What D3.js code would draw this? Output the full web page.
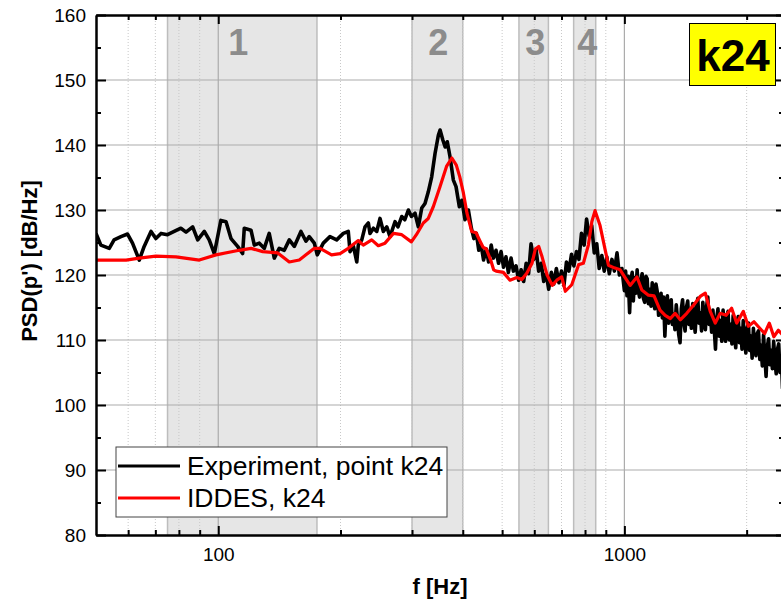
<!DOCTYPE html>
<html>
<head>
<meta charset="utf-8">
<script src="https://cdn.jsdelivr.net/npm/d3@7/dist/d3.min.js"></script>
<style>
  html, body { margin: 0; padding: 0; background: #fff; }
  svg { display: block; font-family: "Liberation Sans", Arial, Helvetica, sans-serif; }
</style>
</head>
<body>
<svg id="chart" width="781" height="601"></svg>
<script>
// ---------- data ----------
const xMajorTicks = [100, 1000];
const xMinorTicks = [60, 70, 80, 90, 200, 300, 400, 500, 600, 700, 800, 900, 2000];
const yMajorTicks = [80, 90, 100, 110, 120, 130, 140, 150, 160];
const yMinorTicks = [85, 95, 105, 115, 125, 135, 145, 155];

const bandRanges = [[75, 175], [300, 400], [550, 650], [750, 850]];
const bandLabels = ["1", "2", "3", "4"];
const bandLabelFreqs = [112, 348, 603, 810];

const seriesNames = ["Experiment, point k24", "IDDES, k24"];
const pointLabel = "k24";

// Experiment [f, PSD]
const expData = [[50,126.4],[51.4,124.6],[53.9,124.1],[55.4,125.4],[57.6,125.9],[59.8,126.3],[61.5,124.9],[63.9,122.3],[65.7,124.4],[68.3,126.7],[70.2,125.6],[72.3,126.4],[75.0,126.2],[77.9,126.7],[80.9,127.2],[83.3,126.6],[86.5,127.4],[89.0,125.4],[92.4,126.7],[95.0,125.4],[97.8,123.3],[101.5,128.4],[104.5,128.2],[107.5,125.6],[111.6,124.4],[114.8,123.3],[115.9,127.2],[120.4,126.9],[122.7,124.6],[126.2,124.9],[129.8,124.1],[133.5,126.4],[137.4,122.6],[141.3,124.1],[145.4,123.8],[149.6,125.4],[153.9,124.4],[159.8,126.7],[164.4,125.2],[167.5,125.9],[172.4,124.9],[175.3,123.1],[181.4,124.9],[188.4,125.9],[195.7,125.4],[203.2,126.4],[209.0,126.7],[211.1,123.6],[215.1,124.5],[219.3,122.0],[221.2,124.6],[225.6,125.4],[229.8,127.4],[234.2,128.0],[236.4,126.4],[241,127.2],[245.6,126.7],[250.2,128.7],[255,126.7],[260,127.4],[264.8,125.9],[272.4,128.2],[277,127.4],[283,129.0],[288,128.5],[293.8,130.0],[299,129.0],[305.1,129.5],[310.9,127.4],[317,130.3],[322.9,131.0],[329,132.8],[335.4,135.1],[341.8,138.7],[348.3,141.5],[351.7,142.3],[357.1,140.8],[362,139.7],[366.4,140.5],[372.1,138.2],[379.2,134.6],[385,133.6],[392.3,130.5],[398,131.5],[405.1,128.5],[412.9,130.0],[420,127.2],[426,125.6],[432,126.4],[438,123.8],[444,124.6],[450,122.3],[457,124.0],[463,122.0],[470,124.6],[476,122.6],[483,123.8],[490,121.8],[497,123.6],[504,121.2],[511,122.8],[518,120.4],[526,122.6],[533,120.6],[541,121.4],[549,119.2],[557,120.8],[565,119.0],[573,121.8],[581,120.2],[589,124.8],[598,122.4],[606,124.0],[615,120.6],[624,121.8],[633,119.0],[642,120.2],[651,117.8],[661,120.4],[670,118.6],[680,121.0],[690,118.8],[700,120.6],[710,118.4],[720,122.0],[730,120.6],[741,123.2],[751,121.4],[762,123.6],[773,122.4],[784,126.4],[796,124.6],[807,128.6],[819,126.0],[831,127.6],[843,123.4],[855,124.8],[867,121.0],[880,123.0],[892,120.6],[905,122.8],[918,120.2],[932,122.4],[945,120.6],[959,123.4],[972,120.0],[986,121.0],
[1000,117.6],[1007,120.6],[1015,116.8],[1022,119.8],[1030,114.2],[1037,119.0],[1045,120.4],[1052,116.0],[1060,119.6],[1067,117.2],[1075,120.8],[1082,117.6],[1090,116.6],[1098,119.2],[1106,120.2],[1114,116.4],[1122,115.8],[1130,119.8],[1138,119.4],[1146,115.6],[1155,117.8],[1163,115.2],[1171,118.8],[1180,116.0],[1188,114.8],[1196,118.6],[1205,117.4],[1214,113.8],[1223,115.6],[1231,117.2],[1240,113.4],[1249,116.6],[1258,110.6],[1267,115.0],[1276,116.8],[1285,112.6],[1295,114.6],[1304,116.2],[1313,112.4],[1322,114.0],[1332,111.6],[1342,115.4],[1352,113.0],[1361,110.8],[1371,109.6],[1381,114.8],[1391,116.2],[1401,112.6],[1411,111.4],[1421,115.0],[1432,116.0],[1442,112.4],[1452,114.4],[1462,111.8],[1473,115.6],[1483,113.0],[1494,111.2],[1505,114.8],[1516,116.4],[1527,112.6],[1538,114.2],[1549,111.4],[1560,115.8],[1571,113.0],[1583,111.6],[1594,115.2],[1605,116.6],[1617,112.4],[1629,114.0],[1640,111.2],[1652,114.6],[1664,111.8],[1676,108.6],[1688,113.4],[1700,114.8],[1712,110.6],[1725,113.0],[1737,109.8],[1750,114.6],[1762,111.6],[1775,109.8],[1788,113.8],[1800,114.4],[1813,110.0],[1826,112.4],[1840,109.4],[1853,113.8],[1866,111.0],[1880,108.8],[1893,112.6],[1907,113.6],[1920,109.6],[1934,111.8],[1948,108.6],[1962,113.0],[1976,110.2],[1991,108.0],[2005,111.8],[2020,112.6],[2034,108.4],[2049,110.6],[2063,107.2],[2078,111.8],[2093,109.0],[2108,107.6],[2124,111.0],[2139,111.4],[2155,107.0],[2170,109.2],[2186,106.0],[2201,110.8],[2217,107.6],[2233,104.4],[2249,109.0],[2265,110.2],[2281,106.2],[2298,108.4],[2314,105.6],[2331,109.8],[2348,106.8],[2365,104.8],[2382,108.6],[2399,109.4],[2416,105.0],[2434,107.4],[2451,102.6],[2469,108.2],[2484,105.6],[2500,104.4]];

// IDDES [f, PSD]
const iddesData = [[50,122.3],[59.3,122.3],[63.9,122.6],[70.2,122.9],[78.7,122.8],[89.8,122.3],[98.7,123.1],[112.6,123.8],[120.4,124.1],[128.7,123.6],[140.1,123.4],[149.6,122.0],[158.3,122.3],[164.4,123.1],[172.4,124.1],[178.1,124.1],[190.1,123.1],[199.5,123.3],[209,124.1],[221.2,125.3],[227.6,124.6],[238.7,125.4],[247.8,124.5],[257.4,124.9],[270,126.4],[283,126.2],[298.9,125.1],[307.5,126.2],[319.8,128.0],[329,128.7],[338.4,130.5],[351.7,133.6],[364.8,136.7],[376,138.0],[385.6,136.9],[393.3,135.1],[400.9,132.8],[409.7,129.5],[420.8,126.7],[431.3,126.5],[441.2,125.2],[448.5,124.3],[457,124.0],[468.6,122.3],[476.5,120.8],[483.3,120.6],[503.5,120.4],[522.8,119.2],[543.3,119.6],[559.1,119.3],[575.5,120.3],[592.3,121.8],[603.6,124.0],[615.3,124.4],[627.1,122.8],[645.1,120.0],[664.4,118.4],[681.6,119.2],[701,119.7],[715.6,117.5],[742,118.5],[771.8,121.6],[792.5,121.8],[815.3,124.6],[831.4,128.2],[846.8,129.9],[871.2,127.6],[896.5,123.9],[913.6,121.5],[944,121.1],[976.3,120.8],[1004,119.6],[1033,118.4],[1074,119.7],[1104,117.7],[1146,116.9],[1183,116.8],[1224,114.6],[1260,113.8],[1298,113.3],[1333,114.1],[1373,113.1],[1424,114.1],[1481,115.4],[1537,116.7],[1582,117.2],[1627,114.4],[1674,112.6],[1721,114.1],[1780,113.8],[1837,114.9],[1890,112.6],[1963,114.4],[2019,112.1],[2085,112.8],[2155,111.8],[2215,111.0],[2274,112.6],[2333,110.5],[2394,111.5],[2500,110.2]];

// ---------- layout ----------
const svg = d3.select("#chart");
const L = 96, T = 15, B = 535;
const x = d3.scaleLog().domain([50, 2500]).range([L, 786]);
const y = d3.scaleLinear().domain([80, 160]).range([B, T]);
const R = x(2500);

svg.append("defs").append("clipPath").attr("id", "plotclip")
  .append("rect").attr("x", L).attr("y", T).attr("width", R - L).attr("height", B - T);

// bands
const bands = svg.append("g");
bands.selectAll("rect").data(bandRanges).join("rect")
  .attr("x", d => x(d[0])).attr("y", T)
  .attr("width", d => x(d[1]) - x(d[0])).attr("height", B - T)
  .attr("fill", "#e6e6e6");

// minor vertical grid (dotted)
svg.append("g").selectAll("line").data(xMinorTicks).join("line")
  .attr("x1", d => x(d)).attr("x2", d => x(d)).attr("y1", T).attr("y2", B)
  .attr("stroke", "#c8c8c8").attr("stroke-width", 1).attr("stroke-dasharray", "1,2");

// band edges
bands.selectAll("line.edge").data(bandRanges.flat()).join("line")
  .attr("class", "edge")
  .attr("x1", d => x(d)).attr("x2", d => x(d)).attr("y1", T).attr("y2", B)
  .attr("stroke", "#bdbdbd").attr("stroke-width", 1.5);

// major grid
svg.append("g").selectAll("line").data(yMajorTicks.slice(1, -1)).join("line")
  .attr("x1", L).attr("x2", R).attr("y1", d => y(d)).attr("y2", d => y(d))
  .attr("stroke", "#ababab").attr("stroke-width", 1.2);
svg.append("g").selectAll("line").data(xMajorTicks).join("line")
  .attr("x1", d => x(d)).attr("x2", d => x(d)).attr("y1", T).attr("y2", B)
  .attr("stroke", "#ababab").attr("stroke-width", 1.2);

// band labels
svg.append("g").selectAll("text").data(bandLabelFreqs).join("text")
  .attr("x", d => x(d))
  .attr("y", 55)
  .attr("text-anchor", "middle")
  .attr("font-size", 36).attr("font-weight", "bold").attr("fill", "#8c8c8c")
  .text((d, i) => bandLabels[i]);

// lines
const line = d3.line().x(d => x(d[0])).y(d => y(d[1]));
const plot = svg.append("g").attr("clip-path", "url(#plotclip)");
plot.append("path").datum(expData).attr("d", line)
  .attr("fill", "none").attr("stroke", "#000").attr("stroke-width", 3.6).attr("stroke-linejoin", "round");
plot.append("path").datum(iddesData).attr("d", line)
  .attr("fill", "none").attr("stroke", "#ff0000").attr("stroke-width", 3.2).attr("stroke-linejoin", "round");

// axes
function styleAxis(g) {
  g.select(".domain").attr("stroke", "#000").attr("stroke-width", 2);
  g.selectAll(".tick line").attr("stroke", "#000").attr("stroke-width", 2);
  g.selectAll(".tick text").attr("font-size", 19).attr("fill", "#000")
    .attr("font-family", "'Liberation Sans', Arial, sans-serif");
}
const fmt = d3.format("d");
// bottom
svg.append("g").attr("transform", `translate(0,${B})`)
  .call(d3.axisBottom(x).tickValues(xMajorTicks).tickFormat(fmt).tickSizeInner(-9).tickSizeOuter(0).tickPadding(13))
  .call(styleAxis);
svg.append("g").attr("transform", `translate(0,${B})`)
  .call(d3.axisBottom(x).tickValues(xMinorTicks).tickFormat("").tickSizeInner(-5).tickSizeOuter(0))
  .call(styleAxis);
// top
svg.append("g").attr("transform", `translate(0,${T})`)
  .call(d3.axisTop(x).tickValues(xMajorTicks).tickFormat("").tickSizeInner(-9).tickSizeOuter(0))
  .call(styleAxis);
svg.append("g").attr("transform", `translate(0,${T})`)
  .call(d3.axisTop(x).tickValues(xMinorTicks).tickFormat("").tickSizeInner(-5).tickSizeOuter(0))
  .call(styleAxis);
// left
svg.append("g").attr("transform", `translate(${L},0)`)
  .call(d3.axisLeft(y).tickValues(yMajorTicks).tickFormat(fmt).tickSizeInner(-10).tickSizeOuter(0).tickPadding(10))
  .call(styleAxis);
svg.append("g").attr("transform", `translate(${L},0)`)
  .call(d3.axisLeft(y).tickValues(yMinorTicks).tickFormat("").tickSizeInner(-5).tickSizeOuter(0))
  .call(styleAxis);
// right
svg.append("g").attr("transform", `translate(${R},0)`)
  .call(d3.axisRight(y).tickValues(yMajorTicks).tickFormat("").tickSizeInner(-10).tickSizeOuter(0))
  .call(styleAxis);
svg.append("g").attr("transform", `translate(${R},0)`)
  .call(d3.axisRight(y).tickValues(yMinorTicks).tickFormat("").tickSizeInner(-7).tickSizeOuter(0))
  .call(styleAxis);

// axis titles
svg.append("text").attr("x", 440).attr("y", 594).attr("text-anchor", "middle")
  .attr("font-size", 22).attr("font-weight", "bold").text("f [Hz]");
svg.append("text").attr("transform", "translate(37,261) rotate(-90)").attr("text-anchor", "middle")
  .attr("font-size", 22).attr("font-weight", "bold").text("PSD(p') [dB/Hz]");

// legend
const lg = svg.append("g");
lg.append("rect").attr("x", 116).attr("y", 447).attr("width", 331).attr("height", 70)
  .attr("fill", "#fff").attr("stroke", "#444").attr("stroke-width", 1);
const legendColors = ["#000", "#ff0000"];
seriesNames.forEach((name, i) => {
  const yy = 466 + i * 32;
  lg.append("line").attr("x1", 118).attr("x2", 180).attr("y1", yy).attr("y2", yy)
    .attr("stroke", legendColors[i]).attr("stroke-width", 3.2);
  lg.append("text").attr("x", 187).attr("y", yy + 9).attr("font-size", 26.5).attr("fill", "#000").text(name);
});

// point label
svg.append("rect").attr("x", 689.5).attr("y", 23.5).attr("width", 86).attr("height", 62)
  .attr("fill", "#ffff00").attr("stroke", "#000").attr("stroke-width", 1);
svg.append("text").attr("x", 733).attr("y", 70.5).attr("text-anchor", "middle")
  .attr("font-size", 44).attr("font-weight", "bold").attr("fill", "#000").text(pointLabel);
</script>
</body>
</html>
